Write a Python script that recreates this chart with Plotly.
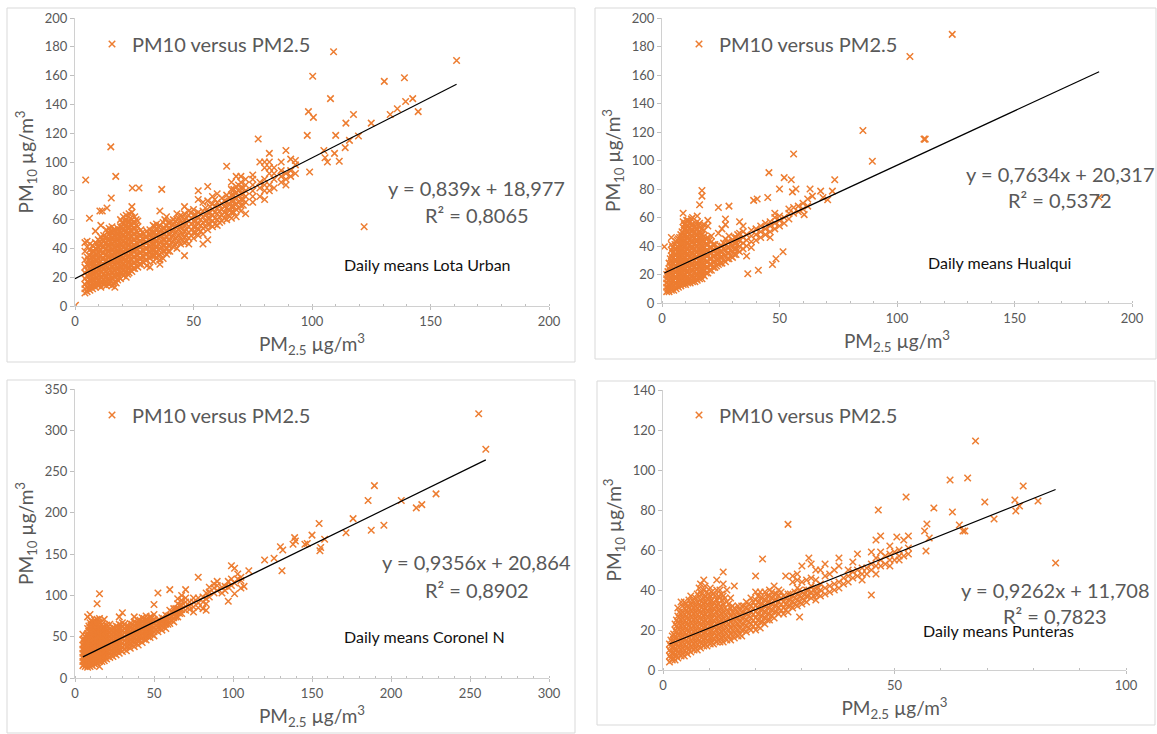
import plotly.graph_objects as go

LEGEND_NAME = "PM10 versus PM2.5"
XTITLE = "PM<sub>2.5</sub> µg/m<sup>3</sup>"
YTITLE = "PM<sub>10</sub> µg/m<sup>3</sup>"
ORANGE = "#ED7D31"
GREY = "#595959"

# ---- Lota Urban : dense readings {PM2.5: [PM10...]} and isolated readings
lota_dense = {
 4.2:[9,12,15,19,23,27,32,38,44], 5.1:[10,13,17,21,25,29,34,41,45], 6.3:[11,14,18,22,26,30,35,39,43],
 7.4:[12,15,19,23,27,31,34,38,42], 8.6:[13,16,20,24,28,32,36,40,44,52], 9.8:[14,17,21,25,29,33,37,41,46],
 10.9:[13,16,20,24,27,31,35,39,43,48,56], 12.1:[15,18,22,26,29,33,37,41,45,49], 13.2:[14,17,21,24,28,32,36,40,44,48,53],
 14.4:[15,18,22,26,30,34,38,42,46,50,54], 15.6:[14,19,23,27,31,35,39,43,47,51,55], 16.8:[13,17,21,25,29,33,37,41,45,49,53],
 18.0:[18,22,26,30,34,38,42,46,50,54], 19.2:[19,23,27,31,35,39,43,47,51,55,60], 20.4:[21,25,29,33,37,41,45,49,53,57,62],
 21.6:[20,24,28,32,36,40,44,48,52,56,60,63], 22.8:[23,27,31,35,39,43,47,51,55,59,64], 24.0:[24,28,32,36,40,44,48,52,56,60,65,69],
 25.2:[26,30,34,38,42,46,50,54,58,62], 26.5:[27,31,35,39,43,47,51,55,59], 27.8:[29,33,37,41,45,49,53],
 29.0:[30,34,38,42,46,50], 30.3:[28,32,36,40,44,48,52], 31.6:[27,33,37,41,45,49,53], 33.0:[31,35,39,43,47,51,56],
 34.4:[33,37,41,45,49,53,57], 35.8:[29,32,36,40,44,48,52,56,66], 37.2:[33,38,42,46,50,54,58], 38.6:[36,40,44,48,52,56,62],
 40.0:[38,42,46,50,54,58], 41.5:[41,45,49,53,57,60], 43.0:[40,44,48,52,56,60,64], 44.6:[43,47,51,55,59,63],
 46.2:[35,44,48,52,56,60,64,69], 48.0:[43,47,51,55,59,63,66], 50.0:[47,51,55,59,63,67], 52.0:[49,53,57,61,65,74,80],
 54.0:[43,50,54,58,62,66,72], 56.0:[46,53,57,61,65,73,83], 58.0:[55,59,63,67,71,76], 60.0:[56,60,64,68,72,78],
 62.0:[59,63,67,71,75], 64.0:[60,64,68,72,77,97], 66.0:[61,65,69,73,77,81,86], 68.0:[62,67,71,75,79,83,90],
 70.0:[66,70,74,78,82,86,90], 72.0:[64,72,76,80,84,88], 75.0:[72,76,80,84,88,91], 78.0:[76,82,86,100],
 80.0:[74,80,84,88,96,100], 82.0:[80,84,92,96,100,106], 84.0:[82,88,92,96], 87.0:[86,90,94,100], 89.0:[84,88,92,108],
 91.0:[90,94,102], 93.0:[92,98,101],
}
lota_core = {
 5.7:[12,16,20,24,28,32], 6.9:[13,17,21,25,29,33,37], 8.0:[14,18,22,26,30,34,38], 9.2:[15,19,23,27,31,35,39,43],
 10.4:[15,18,22,26,30,34,38,42,45], 11.5:[17,20,24,28,33,37,41,46], 12.7:[16,20,24,28,31,35,39,43,47], 13.8:[16,19,23,27,30,34,38,42,46,51],
 15.0:[17,21,25,29,33,37,41,45,49,52], 16.2:[16,21,25,29,33,37,41,45,49,53], 17.4:[16,20,24,28,32,36,40,44,48,52], 18.6:[20,24,28,32,36,40,44,48,52],
 19.8:[23,27,31,35,39,43,47,51,55,58], 21.0:[23,27,31,35,39,43,47,51,55,59], 22.2:[22,26,30,34,38,42,46,50,54,58], 23.4:[25,29,33,37,41,45,49,53,57,61],
 24.6:[26,30,34,38,42,46,50,54,58], 25.8:[28,32,36,40,44,48,52,56,60], 27.2:[29,33,37,41,45,49], 28.4:[31,35,39,43,47,51],
 29.7:[32,36,40,44,48], 31.0:[34,38,42,46,50], 32.3:[35,39,43,47,51], 33.7:[35,39,43,47,51,55], 35.1:[35,39,43,47,51,55],
 36.5:[37,41,45,49,53], 37.9:[38,42,46,50,54,60], 39.3:[38,42,46,50,54,58], 40.8:[44,48,52,56], 42.3:[43,47,51,55,59],
 43.8:[45,49,53,57,61], 45.4:[46,50,54,58,62], 47.1:[45,49,53,57,61], 49.0:[49,53,57,61,65], 51.0:[51,55,59,63], 53.0:[52,56,60,64],
 55.0:[55,59,63,68], 57.0:[57,61,65,69], 59.0:[57,61,65,69,74], 61.0:[58,62,66,70], 63.0:[61,65,69,73], 65.0:[63,67,71,75], 67.0:[65,69,73,77,81],
 69.0:[68,72,76,80,84], 71.0:[70,74,78,82],
}
lota_x_extra = [0.2, 4.5, 6.1, 10.5, 11.5, 13.5, 15.1, 15.3, 17.2, 24.2, 27.0, 36.6, 77.3, 98.0, 98.5, 99.0, 100.3, 100.6, 105.0, 105.5, 106.5, 107.8, 109.1, 109.5, 110.0, 111.5, 114.0, 114.3, 115.8, 117.5, 119.6, 122.0, 125.0, 130.5, 133.0, 136.0, 139.0, 139.5, 142.5, 144.8, 161.0]
lota_y_extra = [0.5, 87.5, 61, 66, 66, 68, 110.5, 75, 90, 82, 82, 81, 116, 118.5, 135, 93, 159.5, 131, 108, 103, 100, 144, 176.5, 106, 118.5, 100.5, 110, 127, 115, 133, 118, 55, 127, 156, 133, 137, 158.5, 142, 144, 135, 170.5]

# ---- Hualqui
hualqui_dense = {
 2.0:[8,11,14,17,20], 3.0:[8,12,16,20,24,28], 4.0:[9,13,17,21,25,29,33,37,41,46], 5.0:[9,12,16,20,24,28,32,36],
 6.0:[10,14,18,22,26,30,34,38,43], 7.0:[11,15,19,23,27,31,35,39,45], 8.0:[12,16,20,24,28,32,36,40,44,48],
 9.0:[13,17,21,25,29,33,37,41,45,49,53,57,63], 10.0:[13,16,20,24,28,32,36,40,44,48,52,56], 11.0:[14,18,22,26,30,34,38,42,46,50,54,58],
 12.0:[14,17,21,25,29,33,37,41,45,49,53,57], 13.0:[15,19,23,27,31,35,39,43,47,51,55,60], 14.0:[15,18,22,26,30,34,38,42,46,50,54],
 15.0:[16,20,24,28,32,36,40,44,48,52,57,61], 16.0:[17,21,25,29,33,37,41,45,49,53,56,69], 17.0:[17,20,24,28,32,36,40,44,48,52,75,79],
 18.0:[19,23,27,31,35,39,43,47,51,55], 19.5:[21,25,29,33,37,41,46,54,58], 21.0:[23,27,31,35,39,43,47],
 22.5:[25,29,33,37,41], 24.0:[27,31,35,39,49,67], 25.5:[28,32,36,40,52], 27.0:[29,33,37,41,45,55,59],
 28.5:[31,35,39,43,47,68], 30.0:[32,36,40,44], 31.5:[34,38,42,46], 33.0:[36,40,44,49,57], 34.5:[38,42,46,50,54],
 36.0:[33,40,44,48], 38.0:[39,43,47,51], 40.0:[44,48,52], 42.0:[46,50,54], 44.0:[48,52,56], 46.0:[46,50,54,57],
 48.0:[52,56,60,63], 50.0:[54,58,61], 52.0:[56,60], 54.0:[59,63,66], 56.0:[63,67], 58.0:[64,68], 60.0:[66,70], 62.0:[68,73],
}
hualqui_core = {
 2.5:[10,13,16,19,22], 3.5:[10,14,18,22,26,31], 4.5:[11,15,19,23,27,31,35,39], 5.5:[11,14,18,22,26,30,34,38,41], 6.5:[12,16,20,24,28,32,36,40,44],
 7.5:[13,17,21,25,29,33,37,41,46], 8.5:[14,18,22,26,30,34,38,42,46,50], 9.5:[15,19,23,27,31,35,39,43,47,51,55], 10.5:[15,18,22,26,30,34,38,42,46,50,54,58],
 11.5:[16,20,24,28,32,36,40,44,48,52,56], 12.5:[16,19,23,27,31,35,39,43,47,51,55,59], 13.5:[17,21,25,29,33,37,41,45,49,53], 14.5:[17,20,24,28,32,36,40,44,48,52],
 15.5:[18,22,26,30,34,38,42,46,50,54], 16.5:[19,23,27,31,35,39,43,47], 17.5:[20,24,28,32,36,40,44], 18.8:[21,25,29,33,37,41,45], 20.2:[23,27,31,35,39,44],
 21.8:[25,29,33,37,41], 23.2:[26,30,34,38], 24.8:[28,32,36,40], 26.2:[30,34,38,42], 27.8:[31,35,39,43], 29.2:[33,37,41], 30.8:[34,38,42,46], 32.2:[37,41,45,48],
}
hualqui_x_extra = [1.0, 36.5, 39.0, 40.5, 41.0, 45.0, 45.5, 47.0, 48.5, 50.0, 51.5, 52.0, 55.0, 55.5, 56.0, 57.0, 60.5, 63.0, 64.0, 67.5, 68.5, 70.5, 72.5, 73.5, 85.5, 89.5, 105.5, 111.5, 112.0, 123.5, 186.0]
hualqui_y_extra = [39.5, 20.5, 72, 73, 23, 74, 91.5, 27, 31, 80, 36, 88, 86.5, 78, 104.5, 80, 62, 80, 75, 78.5, 74, 72.5, 78.5, 86.5, 121, 99.5, 173, 115, 115, 188.5, 74]

# ---- Coronel N
coronel_dense = {
 5.0:[15,20,25,30,35,40,46,53], 6.5:[14,19,24,29,34,39,44,50], 8.0:[13,18,23,28,33,38,43,48,54,60,74], 9.5:[14,19,24,29,34,39,44,49,55,61,67,77],
 11.0:[15,20,25,30,35,40,45,50,56,62,68], 12.5:[17,22,27,32,37,42,47,52,58,64,70], 14.0:[18,23,28,33,38,43,48,53,59,65,71,90],
 15.5:[14,20,25,30,35,40,45,50,55,61,67,72,102], 17.0:[20,25,30,35,40,45,50,55,60,65], 18.5:[21,26,31,36,41,46,51,56,62,71],
 20.0:[23,28,33,38,43,48,53,58,64], 22.0:[25,30,35,40,45,50,55,60,65], 24.0:[26,31,36,41,46,51,56,61], 26.0:[28,33,38,43,48,53,58,63],
 28.0:[30,35,40,45,50,55,60,65,74], 30.0:[32,37,42,47,52,57,62,67,79], 32.5:[33,38,43,48,53,58,63], 35.0:[36,41,46,51,56,61,66],
 37.5:[38,43,48,53,58,63,68,74], 40.0:[40,45,50,55,60,65,70], 42.5:[43,48,53,58,63,68,73], 45.0:[46,51,56,61,66,71,75],
 47.5:[49,54,59,64,69,74], 50.0:[51,56,61,66,71,77,89], 52.5:[56,61,66,70,103], 55.0:[58,63,68,73], 57.5:[60,65,70,76],
 60.0:[66,71,76,82,107], 62.5:[68,73,78,84], 65.0:[74,79,84,90,96], 67.5:[78,83,88,94,100], 70.0:[82,87,92,97,107],
 72.5:[83,87,92], 75.0:[80,86,92,97], 78.0:[85,91,97,122], 81.0:[84,92,98], 83.0:[82,90,96,103], 85.0:[98,104,110],
 88.0:[103,109,114], 90.0:[106,112,117], 93.0:[103,110], 95.0:[106,111], 97.0:[93,110,117], 99.0:[112,120,136],
 101.0:[102,115,133], 103.0:[120,126], 105.0:[109,118,122], 107.0:[111],
}
coronel_core = {
 5.8:[17,22,27,32,37,42,47], 7.2:[16,21,26,31,36,41,46,52], 8.8:[16,21,26,31,36,41,46,51,57,63], 10.2:[17,22,27,32,37,42,47,52,58,64,70], 11.8:[18,23,28,33,38,43,48,53,59,65],
 13.2:[20,25,30,35,40,45,50,55,61,67], 14.8:[21,26,31,36,41,46,51,56,62,68], 16.2:[22,27,32,37,42,47,52,57,63], 17.8:[23,28,33,38,43,48,53,58,63], 19.2:[24,29,34,39,44,49,54,60],
 21.0:[27,32,37,42,47,52,57,62], 23.0:[28,33,38,43,48,53,58], 25.0:[30,35,40,45,50,55,60], 27.0:[32,37,42,47,52,57,62], 29.0:[34,39,44,49,54,59,64], 31.2:[35,40,45,50,55,60,65],
 33.8:[38,43,48,53,58,63], 36.2:[40,45,50,55,60,65], 38.8:[42,47,52,57,62,67], 41.2:[45,50,55,60,65,70], 43.8:[47,52,57,62,67,72], 46.2:[50,55,60,65,70], 48.8:[53,58,63,68,73],
 51.2:[58,63,68], 53.8:[60,65,70], 56.2:[62,67,72], 58.8:[65,70,75], 61.2:[70,75,80], 63.8:[74,79,84], 66.2:[78,83,88],
}
coronel_x_extra = [110.0, 120.0, 126.0, 130.0, 131.0, 131.5, 138.0, 139.0, 139.5, 145.5, 147.0, 150.0, 154.5, 155.0, 155.5, 158.0, 171.5, 176.0, 185.5, 187.5, 189.5, 195.5, 206.5, 216.0, 219.5, 228.5, 255.5, 260.0]
coronel_y_extra = [130, 143, 145, 159, 130, 155, 162, 170, 166, 162, 163, 173, 187, 154, 158, 168, 176, 193, 215, 179, 233, 185, 215, 206, 210, 223, 320, 277]

# ---- Punteras
punteras_dense = {
 1.4:[4,7,10,13], 2.0:[5,8,11,14,17], 2.6:[5,8,11,14,17,20,23], 3.2:[6,9,12,15,18,21,24,27,31], 3.9:[7,10,13,16,19,22,25,28,34],
 4.6:[7,10,13,16,19,22,25,28,31,34], 5.3:[8,11,14,17,20,23,26,29,32], 6.0:[9,12,15,18,21,24,27,30,33,37],
 6.7:[10,13,16,19,22,25,28,31,34], 7.4:[10,13,16,19,22,25,28,31,34,38], 8.1:[11,14,17,20,23,26,29,32,35,39,43],
 8.8:[12,15,18,21,24,27,30,33,36,40,45], 9.5:[12,15,18,21,24,27,30,33,36,39], 10.2:[13,16,19,22,25,28,31,34,37,41],
 10.9:[13,16,19,22,25,28,31,34,38], 11.6:[14,17,20,23,26,29,32,35,40,45], 12.3:[14,17,20,23,26,29,32,36,40],
 13.0:[14,17,20,23,26,29,33,37,43,49], 13.8:[15,18,21,24,27,30,34,40], 14.6:[15,18,21,24,27,31,36], 15.4:[16,19,22,25,28,31,42],
 16.2:[17,20,23,26,29,32], 17.0:[17,20,23,26,29,32], 18.0:[19,22,25,28,31,34], 19.0:[20,23,26,29,32,36], 20.0:[20,23,26,29,32,35,39],
 21.0:[21,24,27,30,33,36,39], 22.0:[23,26,29,32,35,39], 23.0:[25,28,31,34,37,40], 24.0:[26,29,32,35,38,42], 25.0:[28,31,34,37,40],
 26.0:[28,31,34,37], 27.0:[29,32,35,38], 28.0:[31,34,37,44,47], 29.0:[32,35,38,41,45,48], 30.0:[33,36,39,44,52],
 31.0:[34,37,40,45], 32.0:[36,39,42,46,53], 33.0:[35,38,41,45,50], 34.0:[37,40,43,50], 35.0:[38,41,47,53],
 36.0:[39,42,48], 37.0:[40,43,50], 38.0:[41,44,52,56], 39.0:[43,46], 40.0:[44,47,50], 41.0:[46,49,54], 42.0:[47,50,58],
 43.0:[45,48,51], 44.0:[48,51], 45.0:[50,53,59], 46.0:[48,52,56,65], 47.0:[52,55,59], 48.0:[53,57],
 49.0:[52,55,58,62], 50.0:[55,59], 51.0:[55,57,60], 52.0:[57,65], 53.0:[58,61,67],
}
punteras_core = {
 1.7:[6,9,12,15], 2.3:[6,9,12,15,18], 2.9:[7,10,13,16,19,22,25], 3.5:[8,11,14,17,20,23,26,29], 4.2:[8,11,14,17,20,23,26,29,32], 5.0:[9,12,15,18,21,24,27,30,33],
 5.6:[10,13,16,19,22,25,28,31,35], 6.3:[11,14,17,20,23,26,29,32,35], 7.0:[11,14,17,20,23,26,29,32,36], 7.8:[12,15,18,21,24,27,30,33,37,41], 8.4:[13,16,19,22,25,28,31,34,38],
 9.1:[13,16,19,22,25,28,31,34,37,42], 9.8:[14,17,20,23,26,29,32,35,38], 10.5:[14,17,20,23,26,29,32,35,39], 11.2:[15,18,21,24,27,30,33,37], 12.0:[15,18,21,24,27,30,33,37],
 12.7:[16,19,22,25,28,31,35,38], 13.4:[16,19,22,25,28,31,36], 14.2:[17,20,23,26,29,33], 15.0:[17,20,23,26,29,32], 15.8:[18,21,24,27,30], 16.6:[18,21,24,27,30], 17.5:[20,23,26,29,32],
 18.5:[21,24,27,30,33], 19.5:[22,25,28,31,34], 20.5:[22,25,28,31,34,37], 21.5:[24,27,30,33,36], 22.5:[25,28,31,34,37], 23.5:[27,30,33,36,39], 24.5:[29,32,35,38], 25.5:[30,33,36,39],
 26.5:[30,33,36], 27.5:[32,35,38], 28.5:[33,36,39], 29.5:[34,37,40], 30.5:[35,38], 31.5:[37,40], 32.5:[37,40], 33.5:[38,41],
}
punteras_x_extra = [20.0, 21.5, 26.5, 27.0, 29.5, 31.5, 45.0, 46.5, 47.0, 50.5, 52.5, 56.5, 56.8, 57.0, 57.5, 58.5, 62.0, 62.5, 64.0, 64.8, 65.2, 65.8, 67.5, 69.5, 71.5, 76.0, 76.2, 77.0, 77.8, 81.0, 84.8]
punteras_y_extra = [47, 55.5, 47, 72.8, 26.5, 56, 37.5, 80, 67, 66.5, 86.5, 69.5, 59.5, 73, 66, 81, 95, 79, 72.5, 69.5, 69.5, 96, 114.5, 84, 75.5, 85, 79.5, 82, 92, 84.5, 53.5]

equations = ["y = 0,839x + 18,977", "y = 0,7634x + 20,317", "y = 0,9356x + 20,864", "y = 0,9262x + 11,708"]
r_squared = ["R² = 0,8065", "R² = 0,5372", "R² = 0,8902", "R² = 0,7823"]
captions = ["Daily means Lota Urban", "Daily means Hualqui", "Daily means Coronel N", "Daily means Punteras"]
slopes = [0.839, 0.7634, 0.9356, 0.9262]
intercepts = [18.977, 20.317, 20.864, 11.708]
trend_ranges = [(0, 161), (1, 186), (5, 260), (1.4, 84.8)]

W, H = 1157, 734

def flatten(dense, core, xe, ye):
    xs, ys = [], []
    for group in (dense, core):
        for x, vals in group.items():
            xs += [x] * len(vals)
            ys += vals
    return xs + xe, ys + ye

panels = [
 dict(data=flatten(lota_dense, lota_core, lota_x_extra, lota_y_extra), xr=200, yr=200, dy=20,
      px=(75, 549), py=(18, 306), box=(7, 8, 575, 362), eq=(477, 188), r2=(477, 215), cap=(427, 264), leg=(92, 44)),
 dict(data=flatten(hualqui_dense, hualqui_core, hualqui_x_extra, hualqui_y_extra), xr=200, yr=200, dy=20,
      px=(662, 1132), py=(18, 303), box=(595, 8, 1156, 359), eq=(1060, 174), r2=(1060, 200), cap=(999, 262), leg=(679, 44)),
 dict(data=flatten(coronel_dense, coronel_core, coronel_x_extra, coronel_y_extra), xr=300, yr=350, dy=50,
      px=(75, 549), py=(389, 678), box=(7, 380, 575, 733), eq=(477, 562), r2=(477, 590), cap=(424, 636), leg=(92, 415)),
 dict(data=flatten(punteras_dense, punteras_core, punteras_x_extra, punteras_y_extra), xr=100, yr=140, dy=20,
      px=(663, 1126), py=(390, 670), box=(597, 381, 1155, 725), eq=(1055, 590), r2=(1055, 616), cap=(998, 630), leg=(679, 415)),
]

fig = go.Figure()
layout = dict(width=W, height=H, margin=dict(l=0, r=0, t=0, b=0, autoexpand=False), autosize=False,
              paper_bgcolor="white", plot_bgcolor="white",
              font=dict(family="Lato, Carlito, sans-serif", color=GREY), shapes=[], annotations=[])

for i, p in enumerate(panels):
    n = "" if i == 0 else str(i + 1)
    xs, ys = p["data"]
    fig.add_trace(go.Scatter(x=xs, y=ys, mode="markers", name=LEGEND_NAME, xaxis=f"x{n}", yaxis=f"y{n}",
                             legend=f"legend{n}", showlegend=True,
                             marker=dict(symbol="x-thin", size=6.5, color=ORANGE, line=dict(color=ORANGE, width=1.5))))
    x0, x1 = trend_ranges[i]
    fig.add_trace(go.Scatter(x=[x0, x1], y=[slopes[i] * x0 + intercepts[i], slopes[i] * x1 + intercepts[i]],
                             mode="lines", xaxis=f"x{n}", yaxis=f"y{n}", showlegend=False,
                             line=dict(color="black", width=1.2)))
    layout[f"xaxis{n}"] = dict(domain=[p["px"][0] / W, p["px"][1] / W], range=[0, p["xr"]], anchor=f"y{n}",
                               dtick=50, ticks="outside", ticklen=3, tickcolor="#BFBFBF",
                               minor=dict(dtick=10, ticks="inside", ticklen=2, tickcolor="#BFBFBF"),
                               showgrid=False, zeroline=False, showline=True, linecolor="#D0D0D0",
                               tickfont=dict(size=13, color=GREY), automargin=False,
                               title=dict(text=XTITLE, font=dict(size=19, color=GREY), standoff=10))
    layout[f"yaxis{n}"] = dict(domain=[1 - p["py"][1] / H, 1 - p["py"][0] / H], range=[0, p["yr"]], anchor=f"x{n}",
                               dtick=p["dy"], ticks="outside", ticklen=4, tickcolor="#BFBFBF",
                               showgrid=False, zeroline=False, showline=True, linecolor="#D0D0D0",
                               tickfont=dict(size=13, color=GREY), automargin=False,
                               title=dict(text=YTITLE, font=dict(size=19, color=GREY), standoff=6))
    layout[f"legend{n}"] = dict(x=p["leg"][0] / W, y=1 - p["leg"][1] / H, xanchor="left", yanchor="middle",
                                bgcolor="rgba(0,0,0,0)", font=dict(size=20, color=GREY), itemclick=False)
    b = p["box"]
    layout["shapes"].append(dict(type="rect", xref="paper", yref="paper", x0=b[0] / W, x1=b[2] / W,
                                 y0=1 - b[3] / H, y1=1 - b[1] / H, line=dict(color="#D9D9D9", width=1), layer="below"))
    for text, pos, size, col in [(equations[i], p["eq"], 20, GREY), (r_squared[i], p["r2"], 20, GREY), (captions[i], p["cap"], 16, "#111111")]:
        layout["annotations"].append(dict(text=text, xref="paper", yref="paper", x=pos[0] / W, y=1 - pos[1] / H,
                                          xanchor="center", yanchor="middle", showarrow=False,
                                          font=dict(size=size, color=col)))

fig.update_layout(**layout)
fig.write_html("out.html", config={"displayModeBar": False},
               post_script="document.body.style.margin='0';document.body.style.overflow='hidden';")
